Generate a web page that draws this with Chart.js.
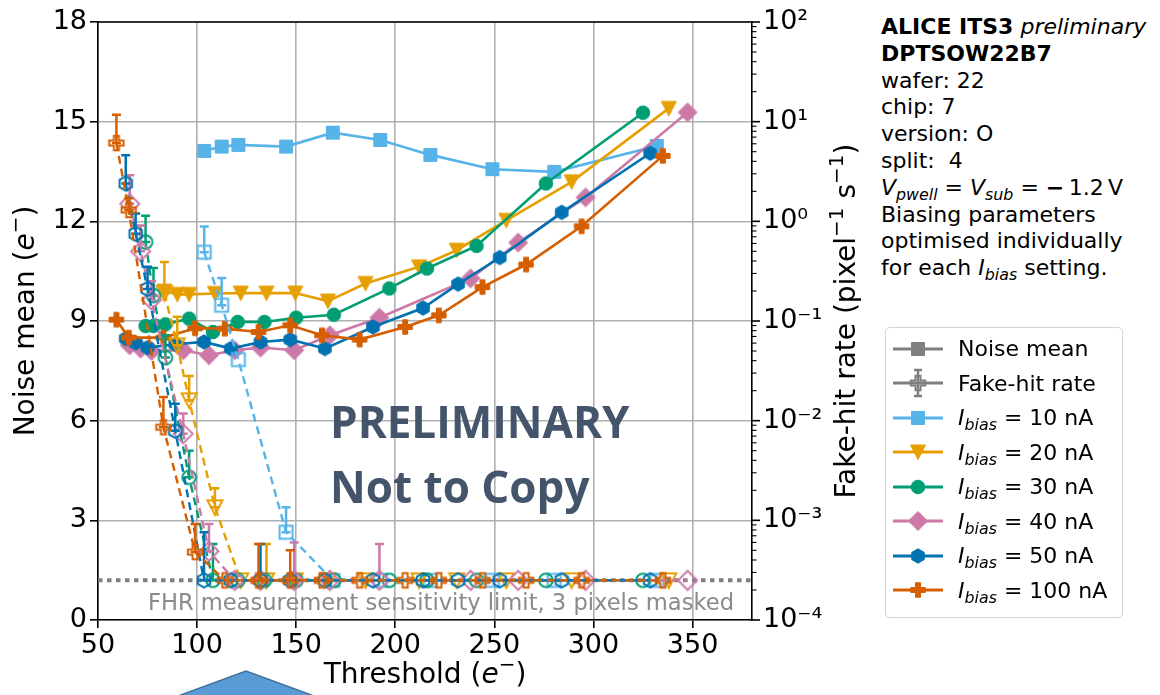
<!DOCTYPE html>
<html>
<head>
<meta charset="utf-8">
<title>DPTSOW22B7 noise and fake-hit rate vs threshold</title>
<script src="https://cdn.jsdelivr.net/npm/chart.js@4.4.1/dist/chart.umd.min.js"></script>
<style>
  html, body { margin: 0; padding: 0; background: #fff; }
  body { position: relative; width: 1160px; height: 695px; overflow: hidden; font-family: 'DejaVu Sans', sans-serif; color: #000; }
  #plot { position: absolute; left: 0; top: 0; }
  #info { position: absolute; left: 881px; top: 14px; font-size: 22px; line-height: 26.8px; white-space: nowrap; }
  #info sub, #legend sub { font-size: 0.72em; line-height: 0; vertical-align: -0.3em; font-style: italic; }
  #legend { position: absolute; left: 885px; top: 327px; width: 238px; height: 291px; border: 1.5px solid #d4d4d4; border-radius: 5px; box-sizing: border-box; }
  .row { position: absolute; left: 7px; height: 35px; display: flex; align-items: center; font-size: 22px; white-space: nowrap; }
  .row canvas { margin-right: 15px; }
  #stamp { position: absolute; left: 330px; top: 389px; font-family: 'Open Sans', sans-serif; font-weight: 700; font-size: 44px; line-height: 65px; color: #44546A; white-space: nowrap; }
  #arrow { position: absolute; left: 170px; top: 665px; }
</style>
</head>
<body>
<canvas id="plot" width="866" height="695"></canvas>

<div id="info">
  <b>ALICE ITS3</b> <i>preliminary</i><br>
  <b>DPTSOW22B7</b><br>
  wafer: 22<br>
  chip: 7<br>
  version: O<br>
  split:&nbsp; 4<br>
  <i>V</i><sub>pwell</sub> = <i>V</i><sub>sub</sub> = <b>&minus;</b>&thinsp;1.2&thinsp;V<br>
  Biasing parameters<br>
  optimised individually<br>
  for each <i>I</i><sub>bias</sub> setting.
</div>

<div id="legend"></div>
<div id="stamp">PRELIMINARY<br>Not to Copy</div>
<svg id="arrow" width="160" height="30">
  <polygon points="8,31 76,6 144,31" fill="#5B9BD5" stroke="#41719C" stroke-width="1.5"/>
</svg>

<script>
// FHR values at the measurement floor are plotted at the floor itself
const L = 2.5e-4;

// Ibias = 10 nA
const thr10   = [103.6, 112.4, 120.8, 144.9, 168.5, 192.4, 217.7, 249, 280.2, 332];
const noise10 = [14.12, 14.25, 14.30, 14.25, 14.67, 14.45, 14.00, 13.57, 13.49, 14.27];
const fhr10   = [0.49, 0.144, 0.041, 7.6e-4, L, L, L, L, L, L];
const fhrUp10 = [0.89, 0.27, null, 1.35e-3, null, null, null, null, null, null];

// Ibias = 20 nA
const thr20   = [83.5, 90, 96, 109, 122, 135, 149.5, 166, 185, 212, 231, 256, 289, 338];
const noise20 = [9.9, 9.8, 9.8, 9.83, 9.84, 9.84, 9.84, 9.6, 10.13, 10.63, 11.13, 12.03, 13.19, 15.4];
const fhr20   = [0.19, 0.057, 0.016, 1.35e-3, L, L, L, L, L, L, L, L, L, L];
const fhrUp20 = [0.39, 0.11, 0.028, 2.1e-3, null, 5.8e-4, null, null, null, null, null, null, null, null];

// Ibias = 30 nA
const thr30   = [74, 78, 84, 96, 108, 120.5, 134, 150, 169, 197, 216, 241, 276, 325];
const noise30 = [8.85, 8.85, 8.9, 9.07, 8.67, 8.97, 8.97, 9.1, 9.19, 9.98, 10.58, 11.26, 13.14, 15.27];
const fhr30   = [0.62, 0.18, 0.043, 2.7e-3, L, L, L, L, L, L, L, L, L, L];
const fhrUp30 = [1.14, 0.34, 0.072, 5.0e-3, 5.8e-4, null, null, null, null, null, null, null, null, null];

// Ibias = 40 nA
const thr40   = [66, 71.5, 77, 93, 106, 119, 132, 149, 167, 192, 238, 262, 296, 347.5];
const noise40 = [8.27, 8.17, 8.1, 8.12, 7.97, 8.12, 8.2, 8.12, 8.57, 9.1, 10.28, 11.36, 12.72, 15.28];
const fhr40   = [1.5, 0.5, 0.163, 7.4e-3, 4.9e-4, L, L, L, L, L, L, L, L, L];
const fhrUp40 = [2.9, 0.91, 0.25, 0.0118, 9.2e-4, null, null, 6.0e-4, null, 5.8e-4, null, null, null, null];

// Ibias = 50 nA
const thr50   = [64, 69, 75, 89, 103.5, 117, 132, 147, 164.5, 188.7, 214, 231.7, 252.7, 284, 328.6];
const noise50 = [8.47, 8.34, 8.2, 8.3, 8.37, 8.17, 8.37, 8.44, 8.17, 8.82, 9.39, 10.11, 10.91, 12.27, 14.05];
const fhr50   = [2.4, 0.75, 0.21, 7.9e-3, L, L, L, L, L, L, L, L, L, L, L];
const fhrUp50 = [4.6, 1.2, 0.35, 0.0148, 7.6e-4, null, 5.8e-4, null, null, null, null, null, null, null, null];

// Ibias = 100 nA
const thr100   = [59.3, 65.5, 83, 99, 114, 131, 147, 163, 182, 205, 222, 244, 266, 294, 335];
const noise100 = [9.04, 8.5, 8.5, 8.78, 8.77, 8.67, 8.87, 8.57, 8.44, 8.82, 9.17, 10.02, 10.70, 11.85, 13.97];
const fhr100   = [6.1, 1.3, 8.6e-3, 4.8e-4, L, L, L, L, L, L, L, L, L, L, L];
const fhrUp100 = [11.7, 1.7, 0.0173, 9.2e-4, null, 5.8e-4, 5.0e-4, null, null, null, null, null, null, null, null];

const xTicks = [50, 100, 150, 200, 250, 300, 350];
const yTicks = [0, 3, 6, 9, 12, 15, 18];

const series = [
  { cur: 10,  color: '#56B4E9', shape: 'square',  thr: thr10,  noise: noise10,  fhr: fhr10,  up: fhrUp10 },
  { cur: 20,  color: '#E69F00', shape: 'triDown', thr: thr20,  noise: noise20,  fhr: fhr20,  up: fhrUp20 },
  { cur: 30,  color: '#009E73', shape: 'circle',  thr: thr30,  noise: noise30,  fhr: fhr30,  up: fhrUp30 },
  { cur: 40,  color: '#CC79A7', shape: 'diamond', thr: thr40,  noise: noise40,  fhr: fhr40,  up: fhrUp40 },
  { cur: 50,  color: '#0072B2', shape: 'hexagon', thr: thr50,  noise: noise50,  fhr: fhr50,  up: fhrUp50 },
  { cur: 100, color: '#D55E00', shape: 'plus',    thr: thr100, noise: noise100, fhr: fhr100, up: fhrUp100 }
];

const FONT = "'DejaVu Sans', sans-serif";
const GREY = '#7f7f7f';

// marker outlines, centred on (x, y)
function traceMarker(g, shape, x, y) {
  g.beginPath();
  if (shape === 'square') {
    g.rect(x - 6.5, y - 6.5, 13, 13);
  } else if (shape === 'triDown') {
    g.moveTo(x - 7.5, y - 7); g.lineTo(x + 7.5, y - 7); g.lineTo(x, y + 7.5); g.closePath();
  } else if (shape === 'circle') {
    g.arc(x, y, 6.8, 0, 2 * Math.PI);
  } else if (shape === 'diamond') {
    g.moveTo(x, y - 9.5); g.lineTo(x + 9.5, y); g.lineTo(x, y + 9.5); g.lineTo(x - 9.5, y); g.closePath();
  } else if (shape === 'hexagon') {
    for (let i = 0; i < 6; i++) {
      const a = -Math.PI / 2 + i * Math.PI / 3;
      const px = x + 7.2 * Math.cos(a), py = y + 7.2 * Math.sin(a);
      if (i) g.lineTo(px, py); else g.moveTo(px, py);
    }
    g.closePath();
  } else if (shape === 'plus') {
    const a = 7.2, b = 2.5;
    const pts = [[-b,-a],[b,-a],[b,-b],[a,-b],[a,b],[b,b],[b,a],[-b,a],[-b,b],[-a,b],[-a,-b],[-b,-b]];
    pts.forEach((p, i) => i ? g.lineTo(x + p[0], y + p[1]) : g.moveTo(x + p[0], y + p[1]));
    g.closePath();
  }
}

function paintMarker(g, shape, x, y, color, open) {
  traceMarker(g, shape, x, y);
  g.setLineDash([]);
  g.strokeStyle = color;
  if (open) {
    g.lineWidth = 2;
  } else {
    g.fillStyle = color;
    g.fill();
    g.lineWidth = 1;
  }
  g.stroke();
}

function markerImage(shape, color, open) {
  const c = document.createElement('canvas');
  c.width = 24; c.height = 24;
  paintMarker(c.getContext('2d'), shape, 12, 12, color, open);
  return c;
}

const pts = (xs, ys) => xs.map((x, i) => ({ x: x, y: ys[i] }));

const datasets = [];
series.forEach((s, k) => {
  datasets.push({
    label: 'Noise mean ' + s.cur + ' nA',
    data: pts(s.thr, s.noise),
    yAxisID: 'y',
    borderColor: s.color,
    borderWidth: 2.6,
    pointStyle: markerImage(s.shape, s.color, false),
    pointRadius: 7,
    order: 100 - k
  });
  datasets.push({
    label: 'Fake-hit rate ' + s.cur + ' nA',
    data: pts(s.thr, s.fhr),
    yAxisID: 'y2',
    borderColor: s.color,
    borderWidth: 2.4,
    borderDash: [8, 5],
    pointStyle: markerImage(s.shape, s.color, true),
    pointRadius: 7,
    errUp: s.up,
    order: 50 - k
  });
});

// text made of runs with different fonts (italic symbols, superscripts)
function drawRuns(ctx, runs, x, y, rot) {
  ctx.save();
  ctx.translate(x, y);
  ctx.rotate(rot);
  ctx.textBaseline = 'middle';
  ctx.textAlign = 'left';
  ctx.fillStyle = '#000';
  let total = 0;
  runs.forEach(r => { ctx.font = r.f; total += ctx.measureText(r.t).width; });
  let cx = -total / 2;
  runs.forEach(r => {
    ctx.font = r.f;
    ctx.fillText(r.t, cx, r.dy || 0);
    cx += ctx.measureText(r.t).width;
  });
  ctx.restore();
}

const TS = 28;
const reg = TS + 'px ' + FONT, ita = 'italic ' + TS + 'px ' + FONT, sup = Math.round(TS * 0.7) + 'px ' + FONT;

const plotExtras = {
  id: 'plotExtras',
  beforeDatasetsDraw(chart) {
    const { ctx, chartArea: a } = chart;
    const yl = chart.scales.y2.getPixelForValue(L);
    ctx.save();
    ctx.strokeStyle = GREY;
    ctx.lineWidth = 4;
    ctx.setLineDash([4.5, 4.5]);
    ctx.beginPath();
    ctx.moveTo(a.left, yl);
    ctx.lineTo(a.right, yl);
    ctx.stroke();
    ctx.fillStyle = '#8a8a8a';
    ctx.font = '22.6px ' + FONT;
    ctx.textAlign = 'right';
    ctx.textBaseline = 'middle';
    ctx.fillText('FHR measurement sensitivity limit, 3 pixels masked', a.right - 18, yl + 24);
    ctx.restore();
  },
  beforeDatasetDraw(chart, args) {
    const ds = chart.data.datasets[args.index];
    if (!ds.errUp) return;
    const xs = chart.scales.x, ys = chart.scales[ds.yAxisID];
    const ctx = chart.ctx;
    ctx.save();
    ctx.strokeStyle = ds.borderColor;
    ctx.lineWidth = 2.5;
    ctx.setLineDash([]);
    ds.data.forEach((p, i) => {
      const hi = ds.errUp[i];
      if (hi == null) return;
      const px = xs.getPixelForValue(p.x);
      const y0 = ys.getPixelForValue(p.y), y1 = ys.getPixelForValue(hi);
      ctx.beginPath();
      ctx.moveTo(px, y0); ctx.lineTo(px, y1);
      ctx.moveTo(px - 4.5, y1); ctx.lineTo(px + 4.5, y1);
      ctx.moveTo(px - 4.5, y0); ctx.lineTo(px + 4.5, y0);
      ctx.stroke();
    });
    ctx.restore();
  },
  afterDraw(chart) {
    const { ctx, chartArea: a } = chart;
    const y2 = chart.scales.y2;
    ctx.save();
    // frame top edge
    ctx.strokeStyle = '#000';
    ctx.lineWidth = 1.6;
    ctx.beginPath();
    ctx.moveTo(a.left - 0.8, a.top);
    ctx.lineTo(a.right + 0.8, a.top);
    ctx.stroke();
    // log ticks on the right axis
    for (let e = -4; e <= 2; e++) {
      for (let m = 1; m <= 9; m++) {
        if (e === 2 && m > 1) break;
        const py = y2.getPixelForValue(m * Math.pow(10, e));
        ctx.lineWidth = m === 1 ? 1.6 : 1.1;
        ctx.beginPath();
        ctx.moveTo(a.right, py);
        ctx.lineTo(a.right + (m === 1 ? 8 : 4.5), py);
        ctx.stroke();
      }
    }
    ctx.restore();
    const cy = (a.top + a.bottom) / 2;
    drawRuns(ctx, [{ t: 'Threshold (', f: reg }, { t: 'e', f: ita }, { t: '\u2212', f: sup, dy: -10 }, { t: ')', f: reg }],
      (a.left + a.right) / 2, 676, 0);
    drawRuns(ctx, [{ t: 'Noise mean (', f: reg }, { t: 'e', f: ita }, { t: '\u2212', f: sup, dy: -10 }, { t: ')', f: reg }],
      27, cy, -Math.PI / 2);
    drawRuns(ctx, [{ t: 'Fake-hit rate (pixel', f: reg }, { t: '\u22121', f: sup, dy: -10 }, { t: ' s', f: reg },
      { t: '\u22121', f: sup, dy: -10 }, { t: ')', f: reg }], 848, cy, -Math.PI / 2);
  }
};

const SUP = { '-': '\u207B', '0': '\u2070', '1': '\u00B9', '2': '\u00B2', '3': '\u00B3', '4': '\u2074' };
const powerLabel = v => {
  const e = Math.log10(v), r = Math.round(e);
  if (Math.abs(e - r) > 1e-6) return '';
  return '10' + String(r).split('').map(ch => SUP[ch]).join('');
};

const tickFont = { family: FONT, size: 27 };
const gridOpts = { color: '#b0b0b0', lineWidth: 1.6, tickColor: '#000', tickLength: 8, tickWidth: 1.6 };

new Chart(document.getElementById('plot'), {
  type: 'line',
  data: { datasets: datasets },
  options: {
    responsive: false,
    animation: false,
    events: [],
    layout: { padding: { top: 22, left: 0, right: 0, bottom: 0 } },
    elements: { line: { tension: 0 } },
    plugins: { legend: { display: false }, tooltip: { enabled: false } },
    scales: {
      x: {
        type: 'linear', min: 50, max: 380,
        afterFit: s => { s.height = 75; },
        afterBuildTicks: s => { s.ticks = xTicks.map(v => ({ value: v })); },
        ticks: { font: tickFont, color: '#000', padding: 2, maxRotation: 0 },
        grid: gridOpts,
        border: { color: '#000', width: 1.6 }
      },
      y: {
        type: 'linear', position: 'left', min: 0, max: 18,
        afterFit: s => { s.width = 98; },
        afterBuildTicks: s => { s.ticks = yTicks.map(v => ({ value: v })); },
        ticks: { font: tickFont, color: '#000', padding: 3 },
        grid: gridOpts,
        border: { color: '#000', width: 1.6 }
      },
      y2: {
        type: 'logarithmic', position: 'right', min: 1e-4, max: 1e2,
        afterFit: s => { s.width = 114; },
        ticks: { font: tickFont, color: '#000', padding: 3, autoSkip: false, callback: powerLabel },
        grid: { drawOnChartArea: false, tickLength: 8, tickColor: 'rgba(0,0,0,0)' },
        border: { color: '#000', width: 1.6 }
      }
    }
  },
  plugins: [plotExtras]
});

// legend box: line with marker, then label
const legendBox = document.getElementById('legend');
const legendRows = [
  { color: GREY, shape: 'square', open: false, html: 'Noise mean' },
  { color: GREY, shape: 'plus', open: true, bar: true, html: 'Fake-hit rate' }
].concat(series.map(s => ({ color: s.color, shape: s.shape, open: false,
  html: '<i>I</i><sub>bias</sub> = ' + s.cur + ' nA' })));

legendRows.forEach((r, i) => {
  const row = document.createElement('div');
  row.className = 'row';
  row.style.top = (3 + i * 34.5) + 'px';
  const c = document.createElement('canvas');
  c.width = 50; c.height = 32;
  const g = c.getContext('2d');
  g.strokeStyle = r.color;
  g.lineWidth = 3;
  g.beginPath(); g.moveTo(0, 16); g.lineTo(50, 16); g.stroke();
  if (r.bar) {
    g.lineWidth = 2.5;
    g.beginPath();
    g.moveTo(25, 3); g.lineTo(25, 29);
    g.moveTo(21, 3); g.lineTo(29, 3);
    g.moveTo(21, 29); g.lineTo(29, 29);
    g.stroke();
  }
  paintMarker(g, r.shape, 25, 16, r.color, r.open);
  row.appendChild(c);
  const label = document.createElement('span');
  label.innerHTML = r.html;
  row.appendChild(label);
  legendBox.appendChild(row);
});
</script>
</body>
</html>
